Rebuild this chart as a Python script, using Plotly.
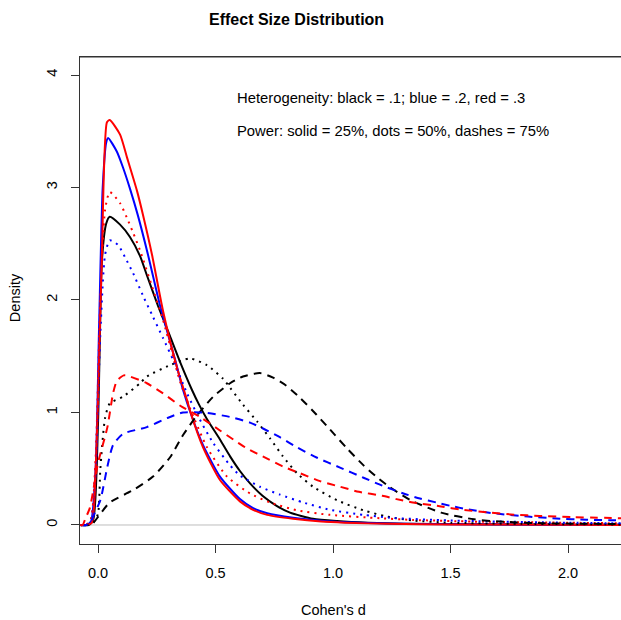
import plotly.graph_objects as go

# ---- data ----
black_solid_x = [-0.077, -0.04, -0.02, 0.0, 0.017, 0.035, 0.05, 0.094, 0.136, 0.179, 0.208, 0.255, 0.306, 0.349, 0.40, 0.43, 0.464, 0.519, 0.562, 0.604, 0.647, 0.70, 0.76, 0.817, 0.915, 1.017, 1.15, 1.3, 1.6, 2.0, 2.23]
black_solid_y = [0, 0.0, 0.05, 0.9, 2.36, 2.68, 2.74, 2.67, 2.56, 2.39, 2.22, 1.95, 1.68, 1.45, 1.2, 1.07, 0.94, 0.76, 0.61, 0.48, 0.37, 0.26, 0.17, 0.11, 0.055, 0.035, 0.02, 0.012, 0.006, 0.003, 0.002]

blue_solid_x = [-0.077, -0.05, -0.03, -0.01, 0.005, 0.02, 0.035, 0.043, 0.08, 0.106, 0.136, 0.17, 0.213, 0.264, 0.328, 0.362, 0.40, 0.447, 0.519, 0.604, 0.66, 0.72, 0.83, 0.95, 1.05, 1.24, 1.5, 2.0, 2.23]
blue_solid_y = [0, 0, 0.03, 0.5, 1.8, 3.0, 3.4, 3.44, 3.32, 3.18, 2.99, 2.75, 2.40, 1.95, 1.47, 1.20, 0.96, 0.71, 0.43, 0.23, 0.15, 0.105, 0.065, 0.038, 0.025, 0.013, 0.007, 0.003, 0.002]

red_solid_x = [-0.077, -0.05, -0.026, -0.01, 0.0, 0.017, 0.038, 0.05, 0.094, 0.123, 0.166, 0.191, 0.23, 0.277, 0.336, 0.379, 0.391, 0.447, 0.519, 0.604, 0.66, 0.72, 0.83, 0.95, 1.05, 1.24, 1.5, 2.0, 2.23]
red_solid_y = [0, 0, 0.02, 0.5, 1.11, 2.44, 3.58, 3.6, 3.47, 3.27, 2.97, 2.76, 2.40, 1.90, 1.40, 1.11, 1.02, 0.69, 0.40, 0.21, 0.135, 0.09, 0.055, 0.03, 0.02, 0.01, 0.005, 0.002, 0.001]

black_dot_x = [-0.077, -0.05, -0.02, 0.0, 0.01, 0.03, 0.05, 0.106, 0.179, 0.208, 0.306, 0.391, 0.464, 0.532, 0.562, 0.617, 0.677, 0.732, 0.787, 0.847, 0.915, 1.017, 1.13, 1.23, 1.34, 1.5, 1.8, 2.23]
black_dot_y = [0, 0, 0.02, 0.1, 0.5, 0.95, 1.08, 1.14, 1.26, 1.32, 1.42, 1.48, 1.42, 1.30, 1.22, 1.07, 0.92, 0.77, 0.61, 0.46, 0.34, 0.22, 0.13, 0.075, 0.04, 0.02, 0.01, 0.005]

blue_dot_x = [-0.077, -0.05, -0.03, -0.01, 0.01, 0.03, 0.05, 0.085, 0.115, 0.149, 0.191, 0.234, 0.277, 0.319, 0.379, 0.43, 0.49, 0.562, 0.604, 0.689, 0.774, 0.873, 0.987, 1.13, 1.24, 1.5, 2.0, 2.23]
blue_dot_y = [0, 0, 0.05, 0.5, 1.7, 2.4, 2.53, 2.49, 2.38, 2.24, 2.04, 1.85, 1.66, 1.47, 1.17, 0.95, 0.73, 0.53, 0.44, 0.34, 0.27, 0.2, 0.135, 0.09, 0.065, 0.04, 0.02, 0.015]

red_dot_x = [-0.077, -0.05, -0.03, -0.01, 0.01, 0.03, 0.05, 0.094, 0.123, 0.149, 0.179, 0.23, 0.277, 0.319, 0.35, 0.391, 0.464, 0.549, 0.647, 0.732, 0.847, 0.987, 1.2, 1.34, 1.6, 2.0, 2.23]
red_dot_y = [0, 0, 0.05, 0.6, 2.0, 2.8, 2.96, 2.86, 2.73, 2.6, 2.44, 2.12, 1.82, 1.5, 1.27, 1.04, 0.69, 0.43, 0.28, 0.2, 0.13, 0.09, 0.06, 0.045, 0.03, 0.02, 0.015]

black_dash_x = [-0.077, -0.05, -0.02, 0.01, 0.05, 0.149, 0.234, 0.306, 0.362, 0.42, 0.49, 0.562, 0.617, 0.689, 0.745, 0.8, 0.86, 0.93, 0.987, 1.06, 1.13, 1.19, 1.24, 1.33, 1.46, 1.6, 1.71, 1.9, 2.23]
black_dash_y = [0, 0, 0.02, 0.1, 0.2, 0.31, 0.43, 0.6, 0.8, 0.97, 1.14, 1.26, 1.32, 1.35, 1.31, 1.24, 1.13, 0.98, 0.85, 0.68, 0.53, 0.42, 0.34, 0.22, 0.11, 0.05, 0.03, 0.015, 0.008]

blue_dash_x = [-0.077, -0.05, -0.03, -0.02, 0.01, 0.04, 0.064, 0.106, 0.208, 0.294, 0.362, 0.447, 0.562, 0.647, 0.7, 0.774, 0.847, 0.93, 1.03, 1.13, 1.21, 1.3, 1.37, 1.44, 1.5, 1.57, 1.68, 1.83, 1.95, 2.08, 2.23]
blue_dash_y = [0, 0, 0.03, 0.08, 0.22, 0.52, 0.71, 0.81, 0.87, 0.95, 1.0, 1.0, 0.96, 0.91, 0.86, 0.78, 0.69, 0.6, 0.51, 0.42, 0.35, 0.28, 0.235, 0.2, 0.17, 0.14, 0.105, 0.075, 0.058, 0.047, 0.04]

red_dash_x = [-0.077, -0.065, -0.055, -0.035, -0.02, 0.0, 0.04, 0.064, 0.08, 0.11, 0.136, 0.208, 0.277, 0.35, 0.434, 0.519, 0.59, 0.634, 0.72, 0.787, 0.86, 0.945, 1.03, 1.11, 1.21, 1.27, 1.34, 1.46, 1.55, 1.67, 1.77, 1.88, 2.02, 2.23]
red_dash_y = [0, 0, 0.05, 0.15, 0.31, 0.55, 0.87, 1.17, 1.28, 1.33, 1.32, 1.26, 1.17, 1.06, 0.96, 0.84, 0.74, 0.68, 0.59, 0.52, 0.46, 0.39, 0.34, 0.295, 0.26, 0.23, 0.2, 0.165, 0.135, 0.11, 0.092, 0.08, 0.07, 0.06]

x_ticks = [0.0, 0.5, 1.0, 1.5, 2.0]
x_tick_labels = ["0.0", "0.5", "1.0", "1.5", "2.0"]
y_ticks = [0, 1, 2, 3, 4]
y_tick_labels = ["0", "1", "2", "3", "4"]

FONT = "Liberation Sans, Arial, sans-serif"
DOT = "2px,5px"
DASH = "8px,6px"

series = [
    (black_solid_x, black_solid_y, "black", "solid"),
    (blue_solid_x, blue_solid_y, "#0000FF", "solid"),
    (red_solid_x, red_solid_y, "#FF0000", "solid"),
    (black_dot_x, black_dot_y, "black", DOT),
    (blue_dot_x, blue_dot_y, "#0000FF", DOT),
    (red_dot_x, red_dot_y, "#FF0000", DOT),
    (black_dash_x, black_dash_y, "black", DASH),
    (blue_dash_x, blue_dash_y, "#0000FF", DASH),
    (red_dash_x, red_dash_y, "#FF0000", DASH),
]

fig = go.Figure()
for xs, ys, col, dash in series:
    fig.add_trace(go.Scatter(x=xs, y=ys, mode="lines",
                             line=dict(color=col, width=2, dash=dash, shape="spline", smoothing=0.6),
                             showlegend=False, hoverinfo="skip"))

# horizontal gray line at 0
fig.add_shape(type="line", xref="paper", yref="y", x0=0, x1=1, y0=0, y1=0,
              line=dict(color="#BEBEBE", width=1), layer="below")

fig.update_layout(
    width=621, height=620,
    margin=dict(l=80, r=0, t=57, b=76),
    plot_bgcolor="white", paper_bgcolor="white",
    font=dict(family=FONT, color="black", size=14.5),
    xaxis=dict(range=[-0.0766, 2.2255], tickvals=x_ticks, ticktext=x_tick_labels,
               showgrid=False, zeroline=False, showline=True, mirror=True,
               linecolor="#333333", linewidth=1, ticks="outside", ticklen=8,
               tickcolor="#333333", ticklabelstandoff=8,
               tickfont=dict(family=FONT, size=14.5, color="black")),
    yaxis=dict(range=[-0.169, 4.16], tickvals=y_ticks, ticktext=y_tick_labels,
               showgrid=False, zeroline=False, showline=True, mirror=False,
               linecolor="#333333", linewidth=1, ticks="outside", ticklen=8,
               tickcolor="#333333", tickangle=-90, ticklabelstandoff=8,
               tickfont=dict(family=FONT, size=14.5, color="black")),
)

# top border line of the box
fig.add_shape(type="line", xref="paper", yref="paper", x0=0, x1=1, y0=1, y1=1,
              line=dict(color="#333333", width=1))

ann = [
    dict(text="<b>Effect Size Distribution</b>", x=0.401, y=1.076, xanchor="center", yanchor="middle",
         font=dict(size=16)),
    dict(text="Cohen's d", x=0.4677, y=-0.1355, xanchor="center", yanchor="middle"),
    dict(text="Density", x=-0.120, y=0.505, xanchor="center", yanchor="middle", textangle=-90),
    dict(text="Heterogeneity: black = .1; blue = .2, red = .3", x=0.2865, y=0.9158,
         xanchor="left", yanchor="middle", font=dict(size=14.8)),
    dict(text="Power: solid = 25%, dots = 50%, dashes = 75%", x=0.2865, y=0.848,
         xanchor="left", yanchor="middle", font=dict(size=14.8)),
]
for a in ann:
    f = dict(family=FONT, color="black", size=14.5)
    f.update(a.pop("font", {}))
    fig.add_annotation(xref="paper", yref="paper", showarrow=False, font=f, **a)

fig.write_html("out.html")
